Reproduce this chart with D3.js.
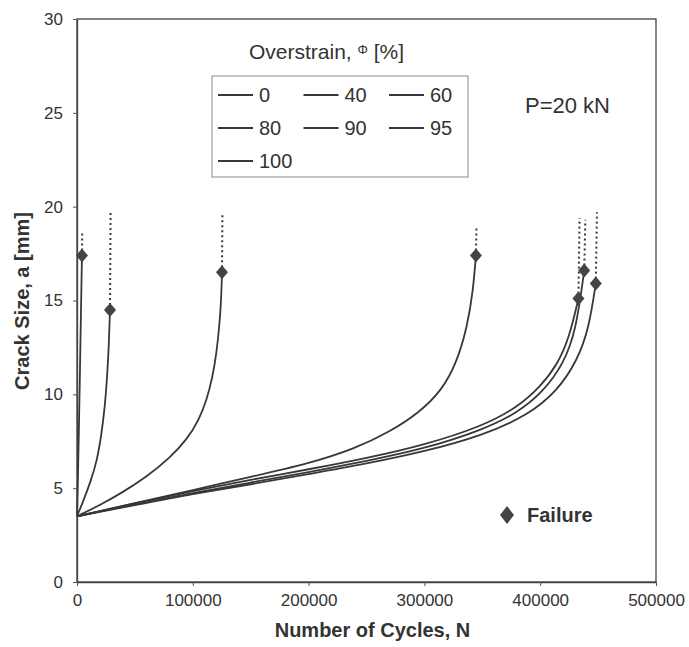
<!DOCTYPE html>
<html>
<head>
<meta charset="utf-8">
<script src="https://cdn.jsdelivr.net/npm/d3@7"></script>
<style>
  body { margin: 0; background: #fff; }
  svg { display: block; font-family: "Liberation Sans", Arial, sans-serif; }
</style>
</head>
<body>
<div id="chart"></div>
<script>
// overstrain levels shown in the legend
const overstrain = [0, 40, 60, 80, 90, 95, 100];
const xTicks = [0, 100000, 200000, 300000, 400000, 500000];
const yTicks = [0, 5, 10, 15, 20, 25, 30];

// crack growth curves, [cycles, crack size mm]; last point = failure
const crack100 = [[0, 3.5], [800, 5.5], [1600, 8], [2500, 11], [3300, 14], [4300, 17.4]];
const crack95 = [[0, 3.5], [6000, 4.4], [12000, 5.4], [17000, 6.4], [21000, 7.8], [24000, 9.3], [26000, 10.9], [27500, 12.6], [28500, 14.5]];
const crack90 = [[0, 3.5], [20000, 4.1], [40000, 4.8], [60000, 5.6], [80000, 6.6], [95000, 7.6], [105000, 8.6], [112000, 9.7], [117000, 10.9], [120500, 12.2], [123000, 13.7], [124500, 15.0], [125200, 16.5]];
const crack80 = [[0, 3.5], [50000, 4.2], [100000, 4.9], [150000, 5.6], [200000, 6.3], [240000, 7.1], [270000, 8.0], [295000, 9.0], [315000, 10.2], [328000, 11.7], [337000, 13.6], [342000, 15.5], [344500, 17.4]];
const crack60 = [[0, 3.5], [50000, 4.2], [100000, 4.85], [150000, 5.45], [200000, 6.0], [250000, 6.6], [300000, 7.3], [350000, 8.3], [380000, 9.3], [400000, 10.4], [415000, 11.6], [425000, 13.0], [433000, 15.1]];
const crack40 = [[0, 3.5], [50000, 4.15], [100000, 4.75], [150000, 5.3], [200000, 5.85], [250000, 6.45], [300000, 7.1], [350000, 8.1], [380000, 9.0], [402000, 10.1], [420000, 11.6], [431000, 13.4], [438000, 16.6]];
const crack0 = [[0, 3.5], [50000, 4.1], [100000, 4.7], [150000, 5.2], [200000, 5.75], [250000, 6.3], [300000, 6.95], [350000, 7.8], [390000, 8.9], [415000, 10.2], [432000, 11.8], [442000, 13.5], [448000, 15.9]];

// dotted continuation above failure
const tail100 = [[4300, 17.4], [4500, 18.6]];
const tail95 = [[28500, 14.5], [29000, 19.8]];
const tail90 = [[125200, 16.5], [125600, 19.6]];
const tail80 = [[344500, 17.4], [345000, 19.0]];
const tail60 = [[433000, 15.1], [434000, 19.4]];
const tail40 = [[438000, 16.6], [439000, 19.3]];
const tail0 = [[448000, 15.9], [449000, 19.7]];

const curves = [crack0, crack40, crack60, crack80, crack90, crack95, crack100];
const tails = [tail0, tail40, tail60, tail80, tail90, tail95, tail100];

const W = 689, H = 647;
const box = { left: 77, top: 19, right: 656, bottom: 582 };
const ink = "#383838";

const svg = d3.select("#chart").append("svg")
  .attr("width", W)
  .attr("height", H);

const x = d3.scaleLinear().domain([0, 500000]).range([box.left, box.right]);
const y = d3.scaleLinear().domain([0, 30]).range([box.bottom, box.top]);

// frame
svg.append("rect")
  .attr("x", box.left)
  .attr("y", box.top)
  .attr("width", box.right - box.left)
  .attr("height", box.bottom - box.top)
  .attr("fill", "none")
  .attr("stroke", "#444")
  .attr("stroke-width", 1.3);

// axes
const xAxis = svg.append("g")
  .attr("transform", `translate(0,${box.bottom})`)
  .call(d3.axisBottom(x).tickValues(xTicks).tickFormat(d3.format("d")).tickSize(4).tickSizeOuter(0).tickPadding(8));
const yAxis = svg.append("g")
  .attr("transform", `translate(${box.left},0)`)
  .call(d3.axisLeft(y).tickValues(yTicks).tickSize(4).tickSizeOuter(0).tickPadding(10));

[xAxis, yAxis].forEach(g => {
  g.select(".domain").attr("stroke", "#444").attr("stroke-width", 1.3);
  g.selectAll(".tick line").attr("stroke", "#555");
  g.selectAll("text")
    .style("font-family", "'Liberation Sans', Arial, sans-serif")
    .style("font-size", "17px")
    .attr("fill", "#333");
});

// axis titles
svg.append("text")
  .attr("x", (box.left + box.right) / 2 + 6)
  .attr("y", 637)
  .attr("text-anchor", "middle")
  .style("font-size", "20px")
  .style("font-weight", "bold")
  .attr("fill", "#333")
  .text("Number of Cycles, N");

svg.append("text")
  .attr("transform", "rotate(-90)")
  .attr("x", -301)
  .attr("y", 29)
  .attr("text-anchor", "middle")
  .style("font-size", "20px")
  .style("font-weight", "bold")
  .attr("fill", "#333")
  .text("Crack Size, a [mm]");

// curves (smoothed like the spreadsheet plot)
const line = d3.line()
  .x(d => x(d[0]))
  .y(d => y(d[1]))
  .curve(d3.curveBasis);

svg.append("g").selectAll("path.crack")
  .data(curves)
  .enter().append("path")
  .attr("class", "crack")
  .attr("d", line)
  .attr("fill", "none")
  .attr("stroke", ink)
  .attr("stroke-width", 1.8);

svg.append("g").selectAll("path.tail")
  .data(tails)
  .enter().append("path")
  .attr("class", "tail")
  .attr("d", d3.line().x(d => x(d[0])).y(d => y(d[1])))
  .attr("fill", "none")
  .attr("stroke", ink)
  .attr("stroke-width", 2)
  .attr("stroke-dasharray", "2,3");

// failure markers
svg.append("g").selectAll("path.fail")
  .data(curves.map(c => c[c.length - 1]))
  .enter().append("path")
  .attr("class", "fail")
  .attr("transform", d => `translate(${x(d[0])},${y(d[1])})`)
  .attr("d", "M0,-7L6,0L0,7L-6,0Z")
  .attr("fill", "#444");

// P label
svg.append("text")
  .attr("x", 525)
  .attr("y", 113)
  .style("font-size", "22px")
  .attr("fill", "#333")
  .text("P=20 kN");

// legend
const legTitle = svg.append("text")
  .attr("x", 249)
  .attr("y", 59)
  .style("font-size", "21px")
  .attr("fill", "#333");
legTitle.append("tspan").text("Overstrain, ");
legTitle.append("tspan").attr("dy", -5).style("font-size", "13px").text("Φ");
legTitle.append("tspan").attr("dy", 5).text(" [%]");

svg.append("rect")
  .attr("x", 212)
  .attr("y", 76)
  .attr("width", 256)
  .attr("height", 101)
  .attr("fill", "none")
  .attr("stroke", "#888")
  .attr("stroke-width", 1);

const legend = svg.append("g").selectAll("g")
  .data(overstrain)
  .enter().append("g")
  .attr("transform", (d, i) => `translate(${218 + (i % 3) * 85.5},${95 + Math.floor(i / 3) * 33})`);

legend.append("line")
  .attr("x1", 0)
  .attr("x2", 35)
  .attr("stroke", ink)
  .attr("stroke-width", 1.8);

legend.append("text")
  .attr("x", 41)
  .attr("y", 7)
  .style("font-size", "20px")
  .attr("fill", "#333")
  .text(d => d);

// failure legend
svg.append("path")
  .attr("transform", "translate(507,515)")
  .attr("d", "M0,-9L7,0L0,9L-7,0Z")
  .attr("fill", "#444");

svg.append("text")
  .attr("x", 527)
  .attr("y", 522)
  .style("font-size", "20px")
  .style("font-weight", "bold")
  .attr("fill", "#333")
  .text("Failure");
</script>
</body>
</html>
